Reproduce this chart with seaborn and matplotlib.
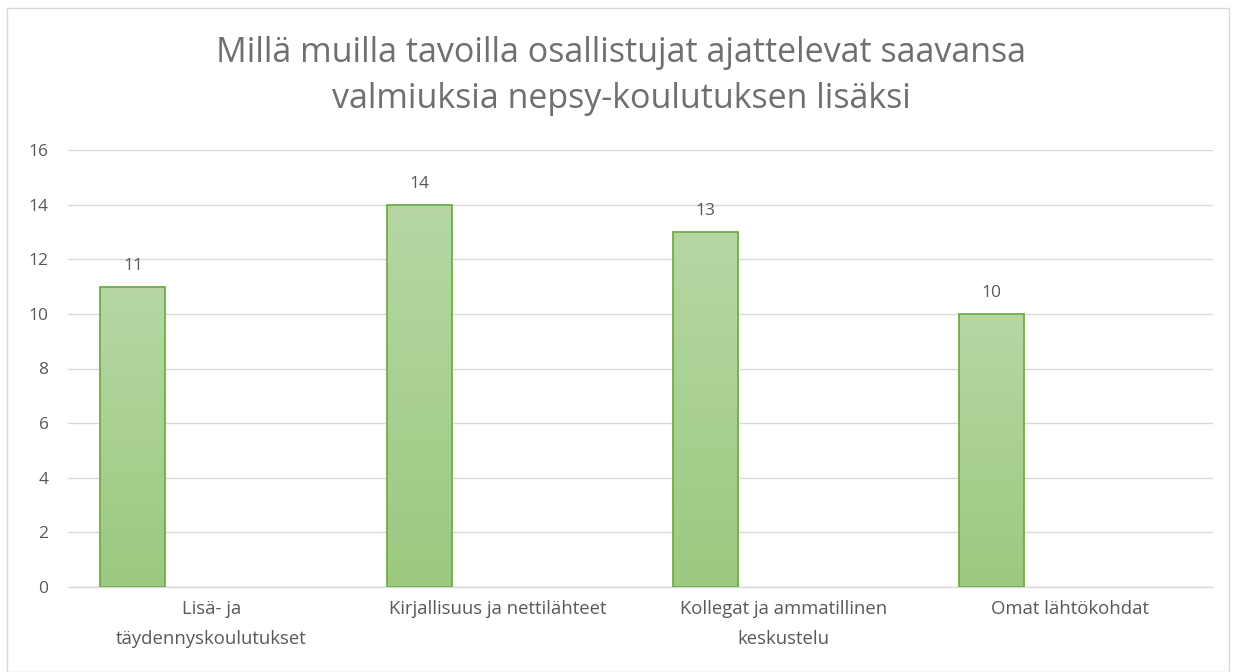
import numpy as np
import pandas as pd
import matplotlib
matplotlib.use("Agg")
import matplotlib.pyplot as plt
import seaborn as sns
from matplotlib.patches import Rectangle
from matplotlib.colors import LinearSegmentedColormap

categories = ["Lisä- ja\ntäydennyskoulutukset", "Kirjallisuus ja nettilähteet",
              "Kollegat ja ammatillinen\nkeskustelu", "Omat lähtökohdat"]
values = [11, 14, 13, 10]
yticks = [0, 2, 4, 6, 8, 10, 12, 14, 16]
title = "Millä muilla tavoilla osallistujat ajattelevat saavansa\nvalmiuksia nepsy-koulutuksen lisäksi"

sns.set_theme(style="white")
plt.rcParams['font.family'] = ['Open Sans', 'DejaVu Sans']

fig = plt.figure(figsize=(12.42, 6.72), dpi=100)
ax = fig.add_axes([68/1242, 1-587/672, (1213-68)/1242, (587-150)/672])

offset = -0.273
df = pd.DataFrame({"pos": np.arange(len(values)) + offset, "val": values})
sns.barplot(data=df, x="pos", y="val", native_scale=True, width=0.227,
            color="#a9d18e", edgecolor="#70ad47", linewidth=1.3, ax=ax, zorder=3)

cmap = LinearSegmentedColormap.from_list("g", ["#9cc97f", "#b6d7a4"])
grad = np.linspace(0, 1, 256).reshape(-1, 1)
for p in ax.patches:
    x0, y0 = p.get_x(), p.get_y()
    w, h = p.get_width(), p.get_height()
    im = ax.imshow(grad, cmap=cmap, origin="lower", aspect="auto",
                   extent=[x0, x0 + w, y0, y0 + h], zorder=2)
    im.set_clip_path(p)
    p.set_facecolor("none")

ax.bar_label(ax.containers[0], labels=[str(v) for v in values], padding=9,
             color="#595959", fontsize=12.5)

ax.set_xlim(-0.5, len(values) - 0.5)
ax.set_ylim(0, 16)
ax.set_yticks(yticks)
ax.set_yticklabels([str(t) for t in yticks])
ax.set_xticks(np.arange(len(values)))
ax.set_xticklabels(categories, linespacing=1.9)
ax.set_xlabel("")
ax.set_ylabel("")
ax.tick_params(axis="both", colors="#595959", labelsize=12.5, length=0)
ax.tick_params(axis="x", labelsize=13.3, pad=9)
ax.tick_params(axis="y", pad=14)
ax.yaxis.grid(True, color="#d9d9d9", linewidth=1.0)
ax.set_axisbelow(True)
for s in ["top", "right", "left"]:
    ax.spines[s].set_visible(False)
ax.spines["bottom"].set_color("#d9d9d9")
ax.spines["bottom"].set_linewidth(1.0)
ax.set_aspect("auto")

fig.text(0.5, 1 - 76/672, title, ha="center", va="center", fontsize=24.5,
         color="#6f6f6f", linespacing=1.5)

fig.patches.append(Rectangle((7/1242, 0), (1229-7)/1242, 1 - 8/672, transform=fig.transFigure,
                             fill=False, edgecolor="#d9d9d9", linewidth=1.0))

fig.savefig("out.png", dpi=100, facecolor="white")
